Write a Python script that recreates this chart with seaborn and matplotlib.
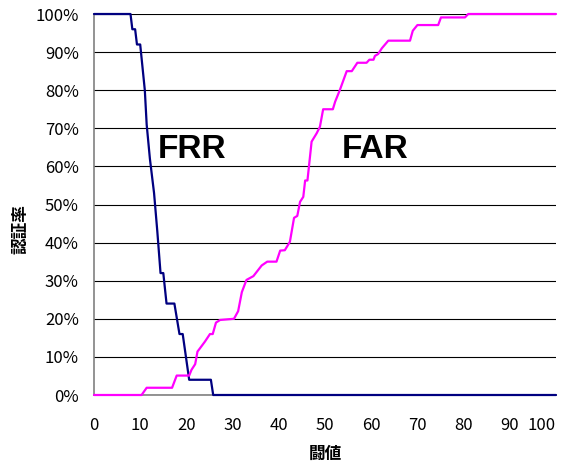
import matplotlib
matplotlib.use('Agg')
import matplotlib.pyplot as plt
import seaborn as sns
from matplotlib.ticker import MultipleLocator, PercentFormatter

# FRR / FAR curves (threshold, rate in %)
frr_x = [0, 7.9, 8.3, 8.9, 9.3, 10.0, 10.5, 11.0, 11.4, 12.1, 13.0, 13.7, 14.4, 15.0,
         15.7, 17.4, 18.5, 19.2, 20.6, 25.3, 25.8, 100]
frr_y = [100, 100, 96, 96, 92, 92, 86, 80, 71, 62, 53, 43, 32, 32,
         24, 24, 16, 16, 4, 4, 0, 0]

far_x = [0, 10.3, 11.4, 16.9, 17.9, 20.6, 21.1, 21.9, 22.4, 22.9, 24.0, 25.1, 25.7, 26.4,
         27.3, 30.3, 31.2, 32.0, 33.0, 34.5, 36.3, 37.5, 39.5, 40.3, 41.3, 42.4, 43.3,
         44.0, 44.6, 45.3, 45.7, 46.2, 47.1, 48.2, 48.9, 49.6, 51.7, 52.2, 53.2, 54.7,
         55.8, 57.0, 59.0, 59.6, 60.5, 60.8, 61.5, 62.3, 63.7, 68.4, 69.0, 70.0, 74.5,
         75.1, 80.3, 81.0, 100]
far_y = [0, 0, 1.9, 1.9, 5.1, 5.1, 6.6, 8.1, 11.4, 12.2, 14, 16, 16, 19,
         19.7, 20, 22, 27, 30.2, 31.2, 34, 35, 35, 37.9, 38, 40.2, 46.5,
         47, 50.7, 52, 56.3, 56.3, 66.5, 68.7, 70.4, 75, 75, 77, 80, 85,
         85, 87.2, 87.2, 88, 88, 89, 89.5, 91, 93, 93, 95.6, 97.1, 97.1,
         99.1, 99.1, 100, 100]

sns.set_style('white')
plt.rcParams['font.family'] = ['Noto Sans CJK JP', 'DejaVu Sans']
plt.rcParams['text.color'] = 'black'
plt.rcParams['xtick.labelcolor'] = 'black'
plt.rcParams['ytick.labelcolor'] = 'black'
plt.rcParams['axes.labelcolor'] = 'black'

fig = plt.figure(figsize=(5.66, 4.63), dpi=100)
ax = fig.add_axes([94 / 566, (463 - 395) / 463, 462 / 566, 381 / 463])

sns.lineplot(x=frr_x, y=frr_y, color='#000080', lw=1.6, ax=ax,
             estimator=None, sort=False, clip_on=False, zorder=3)
sns.lineplot(x=far_x, y=far_y, color='#FF00FF', lw=1.6, ax=ax,
             estimator=None, sort=False, clip_on=False, zorder=4)

ax.set_xlim(0, 100)
ax.set_ylim(0, 100)
ax.set_xticks(range(0, 101, 10))
ax.xaxis.set_minor_locator(MultipleLocator(5))
ax.set_yticks(range(0, 101, 10))
ax.yaxis.set_major_formatter(PercentFormatter(decimals=0))

ax.set_axisbelow(True)
ax.grid(axis='y', color='black', lw=0.8)
ax.grid(axis='x', visible=False)
for s in ['top', 'right']:
    ax.spines[s].set_visible(False)
for s in ['left', 'bottom']:
    ax.spines[s].set_color('#808080')
    ax.spines[s].set_linewidth(1.2)

ax.tick_params(axis='x', which='both', direction='in', length=5, color='#808080',
               labelsize=12, pad=16)
ax.tick_params(axis='y', direction='in', length=5, color='#808080', labelsize=12, pad=11)

# last x label is pulled inside the figure, as in the reference
fig.canvas.draw()
ax.get_xticklabels()[-1].set_horizontalalignment('right')
ax.get_xticklabels()[-1].set_x(101.5)

ax.set_xlabel('闘値', fontsize=12, fontweight='bold', labelpad=8)
ax.set_ylabel('認証率', fontsize=12, fontweight='bold', labelpad=4, y=0.436)

ax.text(21.2, 64.5, 'FRR', fontsize=24, fontweight='bold', family='Liberation Sans',
        ha='center', va='center')
ax.text(60.8, 64.5, 'FAR', fontsize=24, fontweight='bold', family='Liberation Sans',
        ha='center', va='center')

fig.savefig('out.png', dpi=100)
